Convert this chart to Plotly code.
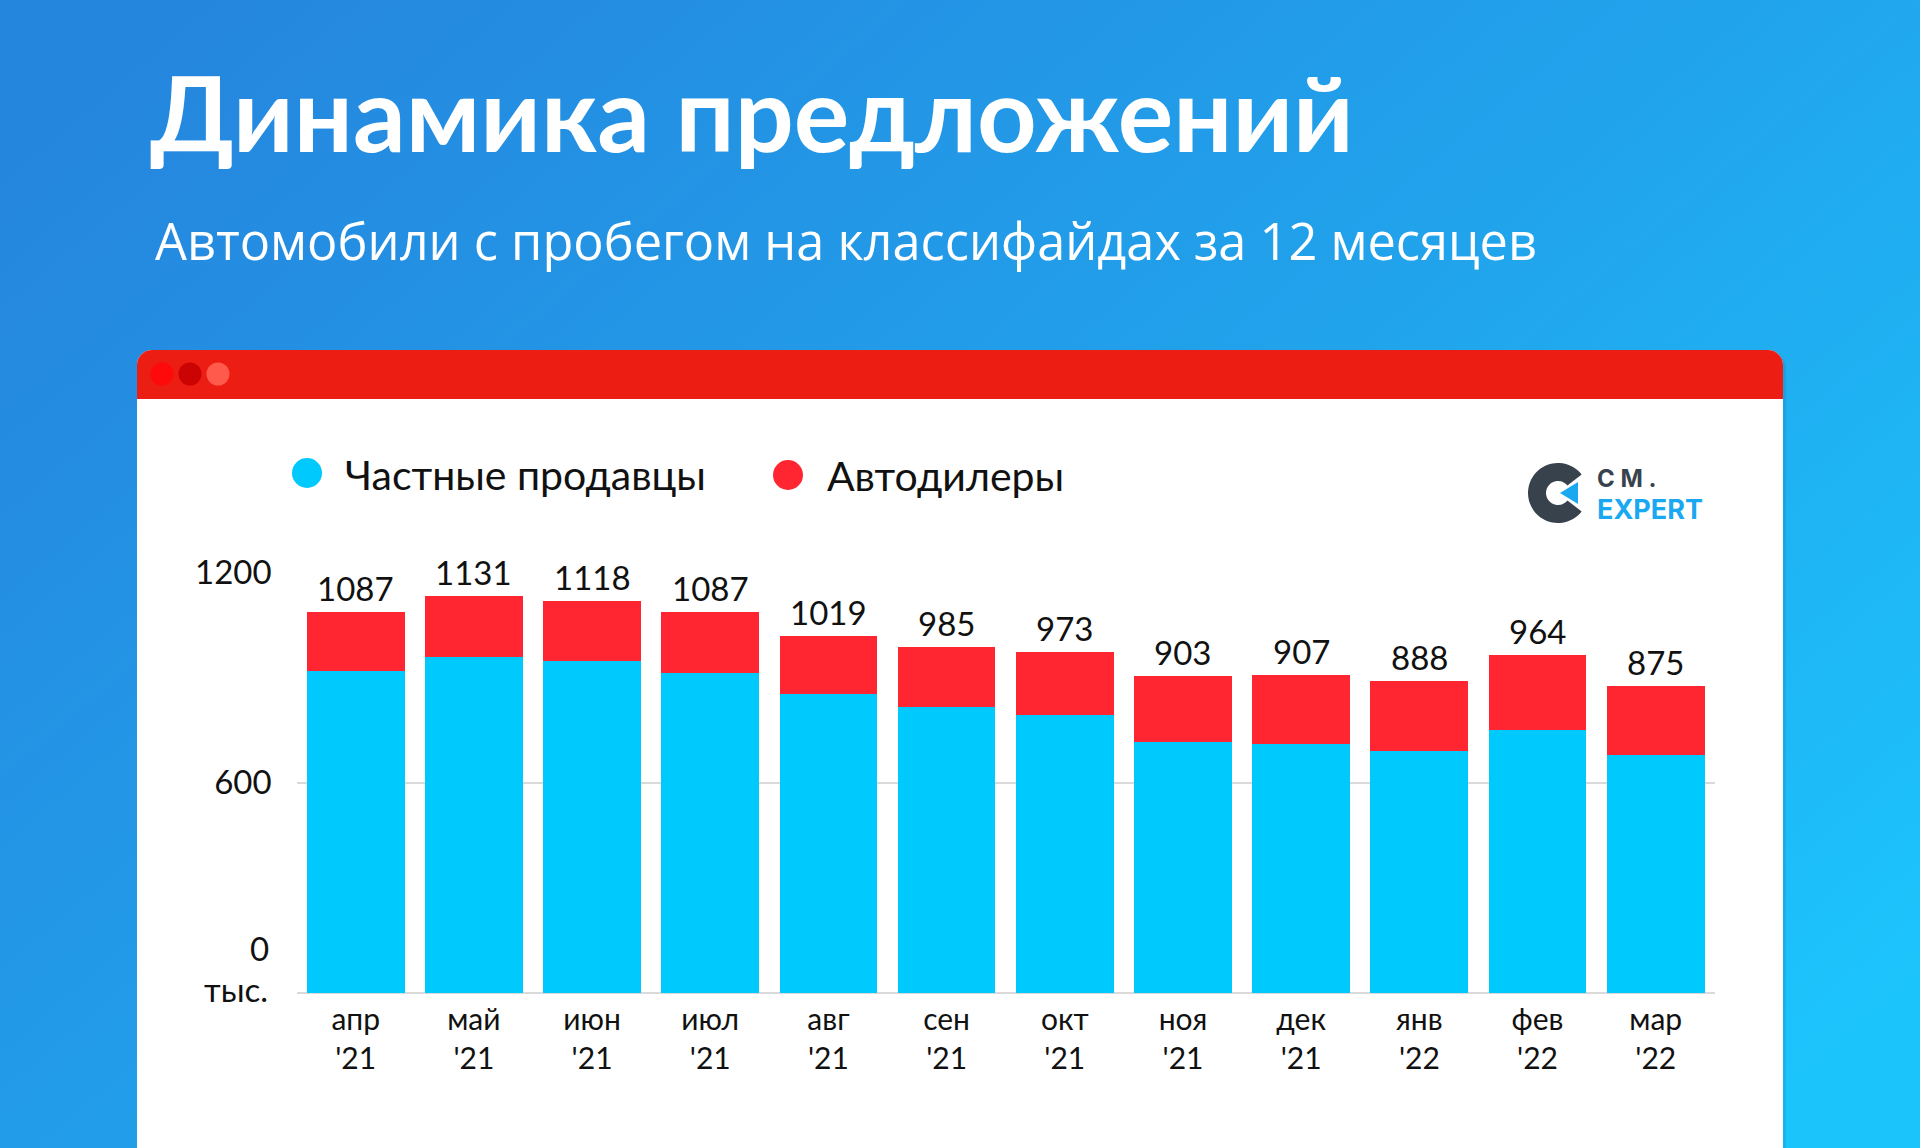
import base64
import numpy as np
import plotly.graph_objects as go

# ---------------- data ----------------
months = ["апр", "май", "июн", "июл", "авг", "сен", "окт", "ноя", "дек", "янв", "фев", "мар"]
years = ["'21", "'21", "'21", "'21", "'21", "'21", "'21", "'21", "'21", "'22", "'22", "'22"]
private_sellers = [918, 958, 945, 912, 853, 816, 791, 716, 710, 690, 751, 677]
dealers = [169, 173, 173, 175, 166, 169, 182, 187, 197, 198, 213, 198]
totals = [1087, 1131, 1118, 1087, 1019, 985, 973, 903, 907, 888, 964, 875]
series_names = ["Частные продавцы", "Автодилеры"]
y_tickvals = [600, 1200]
y_ticktext = ["600", "1200"]

title_text = "Динамика предложений"
subtitle_text = "Автомобили с пробегом на классифайдах за 12 месяцев"

# ---------------- styling ----------------
W, H = 1920, 1148
CYAN = "#00C9FE"
RED = "#FF2631"
FONT = "Lato, 'Open Sans', 'Noto Sans', sans-serif"
FONT2 = "'Open Sans', Lato, sans-serif"
TXT = "#111111"
GRID = "#DADADA"

cats = [f"{m}<br>{y}" for m, y in zip(months, years)]


def px(x):
    return x / W


def py(y):
    return 1 - y / H


def path_from(points):
    return "M " + " L ".join(f"{px(x):.5f},{py(y):.5f}" for x, y in points) + " Z"


def rounded_top_rect(x0, y0, x1, y1, r, n=12):
    pts = [(x0, y1), (x0, y0 + r)]
    for t in np.linspace(np.pi, 1.5 * np.pi, n):
        pts.append((x0 + r + r * np.cos(t), y0 + r + r * np.sin(t)))
    for t in np.linspace(1.5 * np.pi, 2 * np.pi, n):
        pts.append((x1 - r + r * np.cos(t), y0 + r + r * np.sin(t)))
    pts.append((x1, y1))
    return path_from(pts)


def ring_c(cx, cy, R, r, a0, a1, n=60):
    ts = np.radians(np.linspace(a0, a1, n))
    outer = [(cx + R * np.cos(t), cy - R * np.sin(t)) for t in ts]
    inner = [(cx + r * np.cos(t), cy - r * np.sin(t)) for t in ts[::-1]]
    return path_from(outer + inner)


fig = go.Figure()
fig.add_trace(go.Bar(x=cats, y=private_sellers, name=series_names[0],
                     marker=dict(color=CYAN, line=dict(width=0)), hoverinfo="skip"))
fig.add_trace(go.Bar(x=cats, y=dealers, name=series_names[1],
                     marker=dict(color=RED, line=dict(width=0)), hoverinfo="skip"))

shapes = []
# card shadow + card + header
shapes.append(dict(type="path", xref="paper", yref="paper", layer="below",
                   path=rounded_top_rect(139, 353, 1786, 1160, 15),
                   fillcolor="rgba(0,40,90,0.10)", line=dict(width=0)))
shapes.append(dict(type="path", xref="paper", yref="paper", layer="below",
                   path=rounded_top_rect(137, 350, 1783, 1160, 15),
                   fillcolor="#FFFFFF", line=dict(width=0)))
shapes.append(dict(type="path", xref="paper", yref="paper", layer="below",
                   path=rounded_top_rect(137, 350, 1783, 399, 15),
                   fillcolor="#EC1D12", line=dict(width=0)))
# window dots
for cx, col in [(162, "#FF0A0A"), (190, "#CC0303"), (218, "#FF5A4C")]:
    shapes.append(dict(type="circle", xref="paper", yref="paper", layer="below",
                       x0=px(cx - 11.5), x1=px(cx + 11.5), y0=py(374 + 11.5), y1=py(374 - 11.5),
                       fillcolor=col, line=dict(width=0)))
# legend dots
for cx, cy, col in [(307, 473, CYAN), (788, 475, RED)]:
    shapes.append(dict(type="circle", xref="paper", yref="paper",
                       x0=px(cx - 15), x1=px(cx + 15), y0=py(cy + 15), y1=py(cy - 15),
                       fillcolor=col, line=dict(width=0)))
# logo
shapes.append(dict(type="path", xref="paper", yref="paper",
                   path=ring_c(1558, 493, 30, 12, 38, 322),
                   fillcolor="#37424D", line=dict(width=0)))
shapes.append(dict(type="path", xref="paper", yref="paper",
                   path=path_from([(1560, 493), (1578, 482), (1578, 504)]),
                   fillcolor="#1AA9F0", line=dict(width=0)))

annotations = []
annotations.append(dict(text=f"<b>{title_text}</b>", xref="paper", yref="paper",
                        x=px(148), y=py(112), xanchor="left", yanchor="middle", showarrow=False,
                        font=dict(family=FONT, size=104, color="white")))
annotations.append(dict(text=subtitle_text, xref="paper", yref="paper",
                        x=px(153), y=py(240), xanchor="left", yanchor="middle", showarrow=False,
                        font=dict(family=FONT2, size=50.5, color="white")))
for name, x0, cy in [(series_names[0], 346, 474), (series_names[1], 828, 475)]:
    annotations.append(dict(text=name, xref="paper", yref="paper",
                            x=px(x0 - 3), y=py(cy), xanchor="left", yanchor="middle", showarrow=False,
                            font=dict(family=FONT, size=41, color=TXT)))
annotations.append(dict(text="<b>C M .</b>", xref="paper", yref="paper",
                        x=px(1595), y=py(479), xanchor="left", yanchor="middle", showarrow=False,
                        font=dict(family="Inter, sans-serif", size=24, color="#37424D")))
annotations.append(dict(text="<b>EXPERT</b>", xref="paper", yref="paper",
                        x=px(1595), y=py(509), xanchor="left", yanchor="middle", showarrow=False,
                        font=dict(family="Inter, sans-serif", size=27, color="#1AA9F0")))
# bar totals
for c, t in zip(cats, totals):
    annotations.append(dict(text=str(t), x=c, y=t, xref="x", yref="y", yshift=24,
                            xanchor="center", yanchor="middle", showarrow=False,
                            font=dict(family=FONT, size=33, color=TXT)))
# zero label and unit
annotations.append(dict(text="0", x=px(271), y=0, xref="paper", yref="y", yshift=45,
                        xanchor="right", yanchor="middle", showarrow=False,
                        font=dict(family=FONT, size=33, color=TXT)))
annotations.append(dict(text="тыс.", x=px(270), y=0, xref="paper", yref="y", yshift=4,
                        xanchor="right", yanchor="middle", showarrow=False,
                        font=dict(family=FONT, size=33, color=TXT)))

svg = (f'<svg xmlns="http://www.w3.org/2000/svg" width="{W}" height="{H}">'
       '<defs><linearGradient id="g" x1="0" y1="0.15" x2="1" y2="0.85">'
       '<stop offset="0" stop-color="#2586DE"/><stop offset="0.55" stop-color="#21A4EC"/>'
       '<stop offset="1" stop-color="#1CC4FC"/></linearGradient></defs>'
       f'<rect width="{W}" height="{H}" fill="url(#g)"/></svg>')
bg_src = "data:image/svg+xml;base64," + base64.b64encode(svg.encode()).decode()

fig.update_layout(
    width=W, height=H,
    margin=dict(l=0, r=0, t=0, b=0, pad=0, autoexpand=False),
    paper_bgcolor="#2590E3",
    plot_bgcolor="rgba(0,0,0,0)",
    barmode="stack",
    bargap=0.173,
    showlegend=False,
    font=dict(family=FONT, color=TXT),
    shapes=shapes,
    annotations=annotations,
    images=[dict(source=bg_src, xref="paper", yref="paper", x=0, y=1, sizex=1, sizey=1,
                 xanchor="left", yanchor="top", sizing="stretch", layer="below")],
    xaxis=dict(domain=[px(296.6), px(1714.8)], showgrid=False, showline=False, zeroline=False,
               ticks="", tickfont=dict(family=FONT, size=30, color=TXT), ticklabelstandoff=6,
               automargin=False, fixedrange=True),
    yaxis=dict(domain=[1 - 993 / H, 1 - 572 / H], range=[0, 1200], tickvals=y_tickvals,
               ticktext=y_ticktext, showgrid=True, gridcolor=GRID, gridwidth=1.5,
               zeroline=True, zerolinecolor=GRID, zerolinewidth=1.5, showline=False,
               ticks="", tickfont=dict(family=FONT, size=33, color=TXT), ticklabelstandoff=24,
               automargin=False, fixedrange=True),
)

fig.write_html("out.html", config={"displayModeBar": False},
               post_script="document.body.style.margin='0px';document.body.style.overflow='hidden';")
